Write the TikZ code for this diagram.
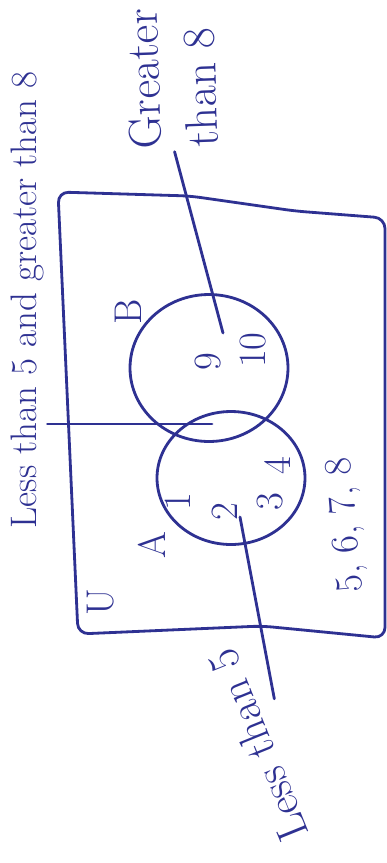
\documentclass[tikz,border=0pt]{standalone}
\usepackage{tikz}
\usetikzlibrary{calc,shapes.geometric}
\usepackage{xcolor}

\definecolor{pen}{RGB}{46,49,146}

\begin{document}
\begin{tikzpicture}[x=0.02cm,y=-0.02cm,
  ink/.style={pen, line width=1.6pt, line cap=round, line join=round},
  lbl/.style={pen, inner sep=2pt, font=\fontsize{21}{24}\selectfont},
  elem/.style={pen, inner sep=1pt, rotate=90, font=\fontsize{22}{24}\selectfont},
  setring/.style={ink, draw, ellipse, inner sep=0pt}]

\useasboundingbox (0,0) rectangle (386,863);

% Universal set U
\draw[ink, rounded corners=6pt] (58,192) -- (190,196) -- (295,211) -- (385,218)
  -- (385,638) -- (262,626) -- (78,634) -- cycle;
\node[elem] (U) at (101,602) {U};

% Sets A and B
\node[setring, minimum width=3.16cm, minimum height=2.94cm] (B) at (209,368) {};
\node[setring, minimum width=2.96cm, minimum height=2.66cm] (A) at (231,478) {};
\node[elem] (Blbl) at (128,312) {B};
\node[elem] (Albl) at (152,545) {A};

% Elements
\node[elem] (nine) at (208,362) {9};
\node[elem] (ten) at (253,350) {10};
\node[elem] (one) at (178,502) {1};
\node[elem] (two) at (225,512) {2};
\node[elem] (three) at (270,502) {3};
\node[elem] (four) at (278,466) {4};
\node[elem, rotate=5] (rest) at (347,525) {5, 6, 7, 8};

% Descriptions
\node[lbl, rotate=90] (both) at (27,300) {Less than 5 and greater than 8};
\node[lbl, rotate=92, align=left, font=\fontsize{26}{32}\selectfont] (gt) at (172,78) {Greater\\than 8};
\node[lbl, rotate=112, font=\fontsize{25}{28}\selectfont] (lt) at (258,745) {Less than 5};

% Pointers
\coordinate (bothend) at (212,424);
\coordinate (nineend) at (223,333);
\coordinate (twoend) at (240,517);
\draw[ink] (both.south |- bothend) -- (bothend);
\draw[ink] (gt.west) -- (nineend);
\draw[ink] ($(lt.south)!0.4!(lt.south east) + (14,0)$) -- (twoend);

\end{tikzpicture}
\end{document}
